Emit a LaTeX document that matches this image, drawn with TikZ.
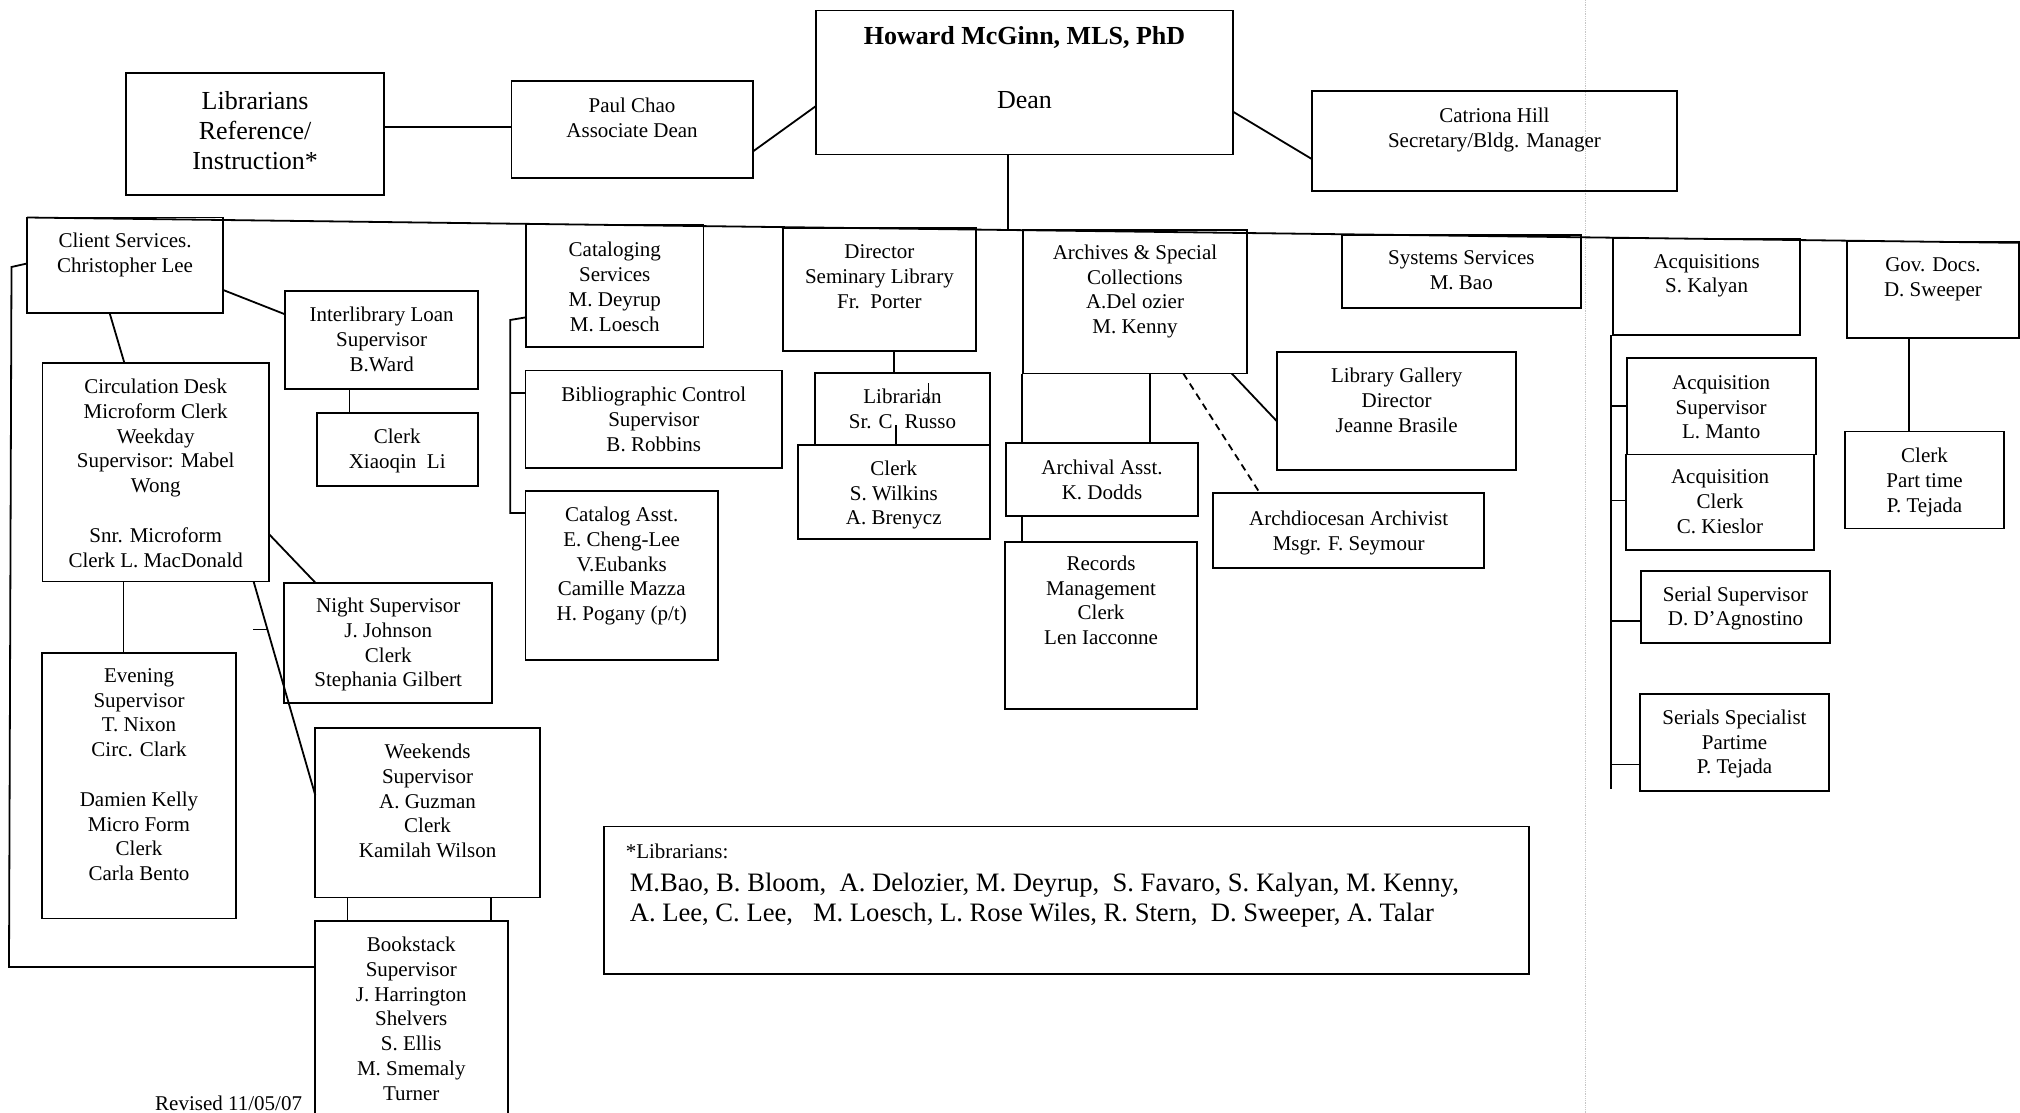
\documentclass[tikz,border=0pt]{standalone}
\usepackage{fontspec}
\setmainfont{Liberation Serif}
\usetikzlibrary{arrows.meta}
\newcommand\obox[7]{%
  \node[obx] (#1) at (#2,#3) {\parbox[t][\dimexpr #5pt-#3pt\relax][t]{\dimexpr #4pt-#2pt\relax}{\centering\vspace*{#6pt}#7\par}};%
}
\begin{document}
\begin{tikzpicture}[x=1pt,y=-1pt,
  obx/.style={draw, line width=1.8pt, inner sep=0pt, outer sep=0pt, anchor=north west, font=\fontsize{21}{24.8}\selectfont},
  conn/.style={line width=1.8pt},
  dashconn/.style={line width=1.8pt, dash pattern=on 7pt off 5pt},
  txt/.style={inner sep=0pt, font=\fontsize{21}{24.8}\selectfont}]
\fill[white] (0,0) rectangle (2020,1113);
\useasboundingbox (0,0) rectangle (2020,1113);
% faint scan fold
\draw[gray!45, line width=0.8pt, densely dotted] (1585,0) -- (1585,1113);

% top level
\obox{dean}{816}{10.5}{1233}{154.5}{15.8}{\fontsize{26}{31}\selectfont\textbf{Howard McGinn, MLS, PhD}\\[33pt]Dean}
\obox{libref}{126.3}{72.7}{384}{195}{18.6}{\fontsize{26}{30.3}\selectfont Librarians\\Reference/\\Instruction*}
\obox{chao}{511.5}{81}{752.6}{178.3}{17.4}{Paul Chao\\Associate Dean}
\obox{hill}{1312.3}{90.7}{1676.6}{190.7}{17.7}{Catriona Hill\\Secretary/Bldg. Manager}

% first row
\obox{client}{27}{217.5}{223.2}{313.3}{15.6}{Client Services.\\Christopher Lee}
\obox{catal}{526.1}{224.5}{703.4}{346.7}{17.9}{Cataloging\\Services\\M. Deyrup\\M. Loesch}
\obox{director}{783}{228}{975.8}{350.7}{16.7}{Director\\Seminary Library\\Fr.\ \ Porter}
\obox{archives}{1022.8}{230}{1247.2}{373.5}{14.7}{Archives \& Special\\Collections\\A.Del ozier\\M. Kenny}
\obox{systems}{1341.6}{235}{1581}{308.3}{15.7}{Systems Services\\M. Bao}
\obox{acq}{1612.9}{238.5}{1800.3}{335}{15.6}{Acquisitions\\S. Kalyan}
\obox{govdocs}{1847}{241.5}{2019}{338.3}{15.9}{Gov. Docs.\\D. Sweeper}

% client services subtree
\obox{ill}{285}{291}{478.3}{389}{16.4}{Interlibrary Loan\\Supervisor\\B.Ward}
\obox{clerkli}{316.8}{413.3}{477.6}{486.3}{15.7}{Clerk\\Xiaoqin\ \ Li}
\obox{circ}{42.5}{363}{268.9}{581.5}{15.9}{Circulation Desk\\Microform Clerk\\Weekday\\Supervisor: Mabel\\Wong\\[24.8pt]Snr. Microform\\Clerk L. MacDonald}
\obox{evening}{41.8}{652.7}{236.2}{918.4}{15.7}{Evening\\Supervisor\\T. Nixon\\Circ. Clark\\[24.8pt]Damien Kelly\\Micro Form\\Clerk\\Carla Bento}
\obox{night}{284.2}{582.6}{492.3}{702.8}{15.3}{Night Supervisor\\J. Johnson\\Clerk\\Stephania Gilbert}
\obox{weekends}{315.3}{728}{539.8}{897.4}{15.9}{Weekends\\Supervisor\\A. Guzman\\Clerk\\Kamilah Wilson}
\obox{bookstack}{314.8}{920.8}{507.7}{1130}{16.2}{Bookstack\\Supervisor\\J. Harrington\\Shelvers\\S. Ellis\\M. Smemaly\\Turner}

% cataloging subtree
\obox{bib}{525.5}{370.4}{782}{467.8}{16.8}{Bibliographic Control\\Supervisor\\B. Robbins}
\obox{catasst}{525.5}{491}{717.9}{660}{15.9}{Catalog Asst.\\E. Cheng-Lee\\V.Eubanks\\Camille Mazza\\H. Pogany (p/t)}

% seminary subtree
\obox{librarian}{814.7}{373.3}{990.2}{445}{15.8}{Librarian\\Sr. C\hspace{12pt}Russo}
\obox{clerkw}{797.9}{445}{989.7}{539.3}{15.7}{Clerk\\S. Wilkins\\A. Brenycz}

% archives subtree
\obox{archasst}{1005.7}{443.3}{1198.3}{515.7}{16.4}{Archival Asst.\\K. Dodds}
\obox{records}{1005}{541.7}{1197}{709}{14}{Records\\Management\\Clerk\\Len Iacconne}
\obox{archd}{1213.3}{493.3}{1484}{568}{17.4}{Archdiocesan Archivist\\Msgr. F. Seymour}
\obox{gallery}{1277.3}{351.7}{1516}{470}{16.7}{Library Gallery\\Director\\Jeanne Brasile}

% acquisitions subtree
\obox{acqsup}{1626.7}{357.7}{1815.7}{454.5}{17.7}{Acquisition\\Supervisor\\L. Manto}
\obox{acqclerk}{1625.7}{454.5}{1814.3}{550.2}{15.4}{Acquisition\\Clerk\\C. Kieslor}
\obox{serialsup}{1641}{571.2}{1830}{643.2}{15.4}{Serial Supervisor\\D. D'Agnostino}
\obox{serialspec}{1640}{693.7}{1829}{791.3}{16.1}{Serials Specialist\\Partime\\P. Tejada}

% gov docs subtree
\obox{clerkpt}{1845}{431.5}{2004}{528.4}{16.5}{Clerk\\Part time\\P. Tejada}

% librarians note
\obox{note}{603.8}{826.5}{1528.8}{974}{17.3}{\raggedright\hspace*{22pt}{\fontsize{21}{25}\selectfont *Librarians:}\par\vspace{3pt}\fontsize{26.6}{30}\selectfont\hspace*{26pt}M.Bao, B. Bloom,\ \ A. Delozier, M. Deyrup,\ \ S. Favaro, S. Kalyan, M. Kenny,\\\hspace*{26pt}A. Lee, C. Lee,\ \ \ M. Loesch, L. Rose Wiles, R. Stern,\ \ D. Sweeper, A. Talar}

\node[txt, anchor=base west] (revised) at (155,1110) {Revised 11/05/07};

% ---------- connectors ----------
\coordinate (busR) at (2030,243);
\draw[conn] (client.north west) -- (busR);
\coordinate (busJ) at (1008,230);
\draw[conn] (dean.south -| busJ) -- (busJ);
\draw[conn] (libref.east |- 0,127.3) -- (chao.west |- 0,127.3);
\draw[conn] (chao.east |- 0,151.7) -- (dean.west |- 0,106);
\draw[conn] (dean.east |- 0,111.7) -- (hill.west |- 0,159.3);

% client services
\draw[conn] (client.south -| 109.7,0) -- (circ.north -| 124.4,0);
\draw[conn] (client.east |- 0,290) -- (ill.west |- 0,314.3);
\draw[conn] (ill.south -| 349.5,0) -- (clerkli.north -| 349.5,0);
\draw[conn] (circ.south -| 123.5,0) -- (evening.north -| 123.5,0);
\draw[conn] (circ.east |- 0,534) -- (night.north -| 315.3,0);
\draw[conn] (circ.south -| 253.6,0) -- (weekends.west |- 0,795.3);
\coordinate (tickA) at (253,629.5);
\coordinate (tickB) at (267.3,629.5);
\draw[conn] (tickA) -- (tickB);
\draw[conn] (weekends.south -| 347.4,0) -- (bookstack.north -| 347.4,0);
\draw[conn] (weekends.south -| 491.3,0) -- (bookstack.north -| 491.3,0);
\coordinate (loopT) at (11.5,267);
\coordinate (loopB) at (9,967);
\draw[conn] (client.west |- 0,263.5) -- (loopT) -- (loopB) -- (bookstack.west |- loopB);

% cataloging
\coordinate (catT) at (510.2,320);
\coordinate (catB) at (510.2,513);
\draw[conn] (catal.west |- 0,317.3) -- (catT) -- (catB) -- (catasst.west |- catB);
\draw[conn] (catT |- 0,392.8) -- (bib.west |- 0,392.8);

% seminary
\draw[conn] (director.south -| 894.3,0) -- (librarian.north -| 894.3,0);
\coordinate (semA) at (895.7,425);
\draw[conn] (semA) -- (clerkw.north -| semA);
\coordinate (curA) at (928.3,383);
\coordinate (curB) at (928.3,404);
\draw[line width=1.4pt, -{Stealth[length=6pt,width=4pt]}] (curA) -- (curB);

% archives
\draw[conn] (archives.south -| 1022.3,0) -- (archasst.north -| 1022.3,0);
\draw[conn] (archives.south -| 1150,0) -- (archasst.north -| 1150,0);
\draw[conn] (archasst.south -| 1021.7,0) -- (records.north -| 1021.7,0);
\draw[dashconn] (archives.south -| 1183.3,0) -- (archd.north -| 1260,0);
\draw[conn] (archives.south -| 1231.7,0) -- (gallery.west |- 0,421.7);

% acquisitions
\coordinate (acqB) at (1611,789.4);
\draw[conn] (acq.south -| acqB) -- (acqB);
\draw[conn] (acqB |- 0,405.9) -- (acqsup.west |- 0,405.9);
\draw[conn] (acqB |- 0,500.4) -- (acqclerk.west |- 0,500.4);
\draw[conn] (acqB |- 0,621) -- (serialsup.west |- 0,621);
\draw[conn] (acqB |- 0,764.5) -- (serialspec.west |- 0,764.5);

% gov docs
\draw[conn] (govdocs.south -| 1909.3,0) -- (clerkpt.north -| 1909.3,0);
\end{tikzpicture}
\end{document}
